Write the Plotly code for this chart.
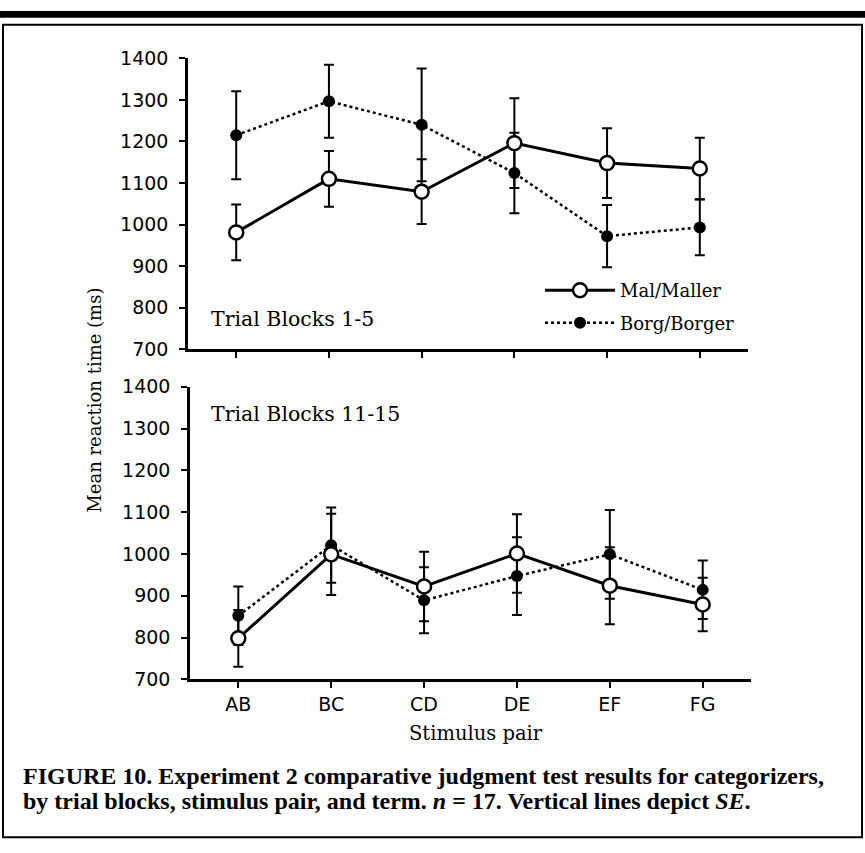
import plotly.graph_objects as go

# Stimulus pairs on the x axis
pairs = ["AB", "BC", "CD", "DE", "EF", "FG"]

# Trial blocks 1-5: mean reaction time (ms) and standard error
mal_early = [981, 1110, 1079, 1196, 1148, 1135]
mal_early_se = [67, 67, 78, 108, 84, 74]
borg_early = [1215, 1297, 1240, 1124, 972, 993]
borg_early_se = [106, 88, 136, 97, 75, 67]

# Trial blocks 11-15
mal_late = [798, 999, 922, 1001, 924, 879]
mal_late_se = [68, 97, 83, 94, 92, 64]
borg_late = [852, 1021, 889, 947, 999, 914]
borg_late_se = [70, 90, 79, 93, 106, 70]

y_ticks = [700, 800, 900, 1000, 1100, 1200, 1300, 1400]

W, H = 865, 853
SERIF = "DejaVu Serif, Georgia, serif"
CAPTION = "Liberation Serif, Times New Roman, serif"
SANS = "DejaVu Sans, Arial, sans-serif"


def px(x):
    return x / W


def py(y):
    return 1 - y / H


def err(vals):
    return dict(type="data", array=vals, visible=True, color="black",
                thickness=2, width=5)


def mal_trace(y, se, xa, ya, show):
    return go.Scatter(
        x=pairs, y=y, error_y=err(se), xaxis=xa, yaxis=ya,
        name="Mal/Maller", legendrank=1, legendgroup="mal", showlegend=show,
        mode="lines+markers",
        line=dict(color="black", width=3),
        marker=dict(symbol="circle", size=14, color="white",
                    line=dict(color="black", width=2.5)),
    )


def borg_trace(y, se, xa, ya, show):
    return go.Scatter(
        x=pairs, y=y, error_y=err(se), xaxis=xa, yaxis=ya,
        name="Borg/Borger", legendrank=2, legendgroup="borg", showlegend=show,
        mode="lines+markers",
        line=dict(color="black", width=2.5, dash="3px,3px"),
        marker=dict(symbol="circle", size=12, color="black"),
    )


fig = go.Figure()
fig.add_trace(borg_trace(borg_early, borg_early_se, "x", "y", True))
fig.add_trace(mal_trace(mal_early, mal_early_se, "x", "y", True))
fig.add_trace(borg_trace(borg_late, borg_late_se, "x2", "y2", False))
fig.add_trace(mal_trace(mal_late, mal_late_se, "x2", "y2", False))

axis_common = dict(
    showline=True, linecolor="black", linewidth=2.5,
    ticks="outside", ticklen=6, tickwidth=2, tickcolor="black",
    showgrid=False, zeroline=False,
)
x_common = dict(axis_common, type="category", range=[-0.52, 5.52],
                tickfont=dict(family=SANS, size=19, color="black"))
y_common = dict(axis_common, range=[700, 1400], tickvals=y_ticks,
                ticklabelstandoff=7,
                tickfont=dict(family=SANS, size=19, color="black"))

fig.update_layout(
    width=W, height=H,
    margin=dict(l=0, r=0, t=0, b=0),
    paper_bgcolor="white", plot_bgcolor="white",
    xaxis=dict(x_common, domain=[px(188), px(748)], anchor="y",
               showticklabels=False),
    yaxis=dict(y_common, domain=[py(347), py(48.7)], anchor="x"),
    xaxis2=dict(x_common, domain=[px(190), px(751)], anchor="y2"),
    yaxis2=dict(y_common, domain=[py(686), py(385.7)], anchor="x2"),
    legend=dict(x=px(540), y=py(268), xanchor="left", yanchor="top",
                bgcolor="rgba(0,0,0,0)", itemwidth=70,
                traceorder="grouped", tracegroupgap=6,
                font=dict(family=SERIF, size=18, color="black")),
    showlegend=True,
)

annotations = [
    dict(text="Trial Blocks 1-5", x=px(209), y=py(316), xanchor="left",
         yanchor="middle", font=dict(family=SERIF, size=20.5)),
    dict(text="Trial Blocks 11-15", x=px(209), y=py(414), xanchor="left",
         yanchor="middle", font=dict(family=SERIF, size=20.5)),
    dict(text="Mean reaction time (ms)", x=px(95), y=py(400), textangle=-90,
         xanchor="center", yanchor="middle", font=dict(family=SERIF, size=18)),
    dict(text="Stimulus pair", x=px(476), y=py(742), xanchor="center",
         yanchor="middle", font=dict(family=SERIF, size=19.5)),
    dict(text="<b>FIGURE 10. Experiment 2 comparative judgment test results for categorizers,</b>",
         x=px(21), y=py(785), xanchor="left", yanchor="middle",
         font=dict(family=CAPTION, size=24)),
    dict(text="<b>by trial blocks, stimulus pair, and term. <i>n</i> = 17. Vertical lines depict <i>SE</i>.</b>",
         x=px(21), y=py(811), xanchor="left", yanchor="middle",
         font=dict(family=CAPTION, size=24)),
]
for a in annotations:
    a.setdefault("xref", "paper")
    a.setdefault("yref", "paper")
    a.setdefault("showarrow", False)
    a["font"]["color"] = "black"
fig.update_layout(annotations=annotations)

# Heavy rule across the top and the box framing the figure
fig.add_shape(type="rect", xref="paper", yref="paper",
              x0=0, x1=1, y0=py(7), y1=1,
              fillcolor="black", line=dict(width=0))
fig.add_shape(type="rect", xref="paper", yref="paper",
              x0=px(3), x1=px(862), y0=py(848), y1=py(14),
              fillcolor="rgba(0,0,0,0)", line=dict(color="black", width=2))

fig.write_html("out.html")
